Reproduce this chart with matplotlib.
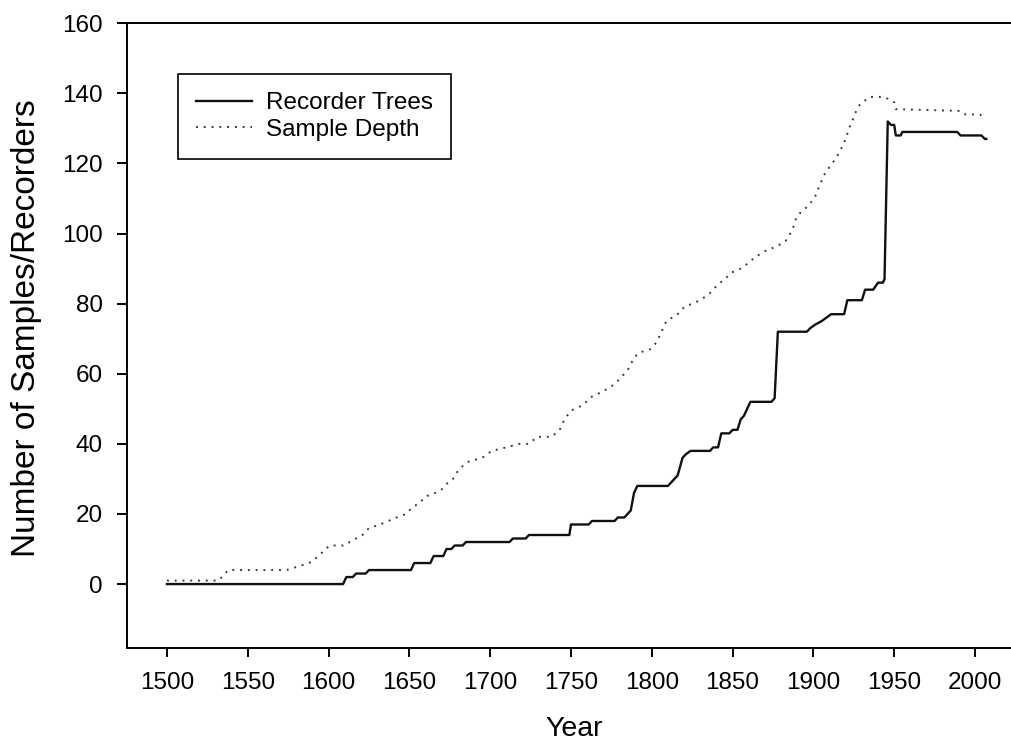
import numpy as np
import matplotlib
matplotlib.use("Agg")
from matplotlib import pyplot as plt

plt.rcParams["font.family"] = ["Liberation Sans", "DejaVu Sans"]

# Recorder trees (solid line), breakpoints
recorder_years = [1500, 1609, 1611, 1615, 1617, 1623, 1625, 1651, 1653, 1663, 1665, 1671,
                  1673, 1676, 1678, 1683, 1685, 1712, 1714, 1722, 1724, 1749, 1750, 1761,
                  1763, 1777, 1779, 1783, 1785, 1787, 1789, 1791, 1810, 1812, 1814, 1816,
                  1819, 1821, 1824, 1836, 1838, 1841, 1843, 1848, 1850, 1853, 1855, 1857,
                  1859, 1861, 1874, 1876, 1878, 1896, 1898, 1901, 1905, 1908, 1911, 1919,
                  1921, 1930, 1932, 1937, 1940, 1943, 1944, 1946, 1948, 1950, 1951, 1954,
                  1955, 1989, 1991, 2004, 2006, 2007]
recorder_values = [0, 0, 2, 2, 3, 3, 4, 4, 6, 6, 8, 8,
                   10, 10, 11, 11, 12, 12, 13, 13, 14, 14, 17, 17,
                   18, 18, 19, 19, 20, 21, 26, 28, 28, 29, 30, 31,
                   36, 37, 38, 38, 39, 39, 43, 43, 44, 44, 47, 48,
                   50, 52, 52, 53, 72, 72, 73, 74, 75, 76, 77, 77,
                   81, 81, 84, 84, 86, 86, 87, 132, 131, 131, 128, 128,
                   129, 129, 128, 128, 127, 127]

# Sample depth (dotted line)
depth_years = [1500, 1532, 1538, 1574, 1581, 1588, 1594, 1598, 1601, 1610, 1613, 1617,
               1621, 1625, 1632, 1637, 1642, 1648, 1652, 1656, 1660, 1666, 1670, 1674,
               1677, 1681, 1687, 1695, 1701, 1710, 1718, 1724, 1729, 1738, 1743, 1746,
               1750, 1757, 1763, 1770, 1777, 1785, 1789, 1792, 1799, 1803, 1806, 1809,
               1816, 1820, 1825, 1830, 1836, 1840, 1845, 1850, 1855, 1861, 1863, 1870,
               1878, 1883, 1887, 1889, 1892, 1897, 1901, 1904, 1907, 1910, 1914, 1917,
               1920, 1922, 1924, 1926, 1929, 1932, 1935, 1943, 1946, 1950, 1951, 1991,
               1994, 2003, 2006]
depth_values = [1, 1, 4, 4, 5, 6, 8, 10, 11, 11, 12, 13,
                14, 16, 17, 18, 19, 20, 22, 23, 25, 26, 27, 29,
                30, 33, 35, 36, 38, 39, 40, 40, 42, 42, 44, 47,
                49.5, 51, 53.5, 55, 57, 61, 64.5, 66, 67, 69, 72, 75,
                77, 79, 80, 81, 83, 85, 87, 89, 90, 92, 93, 95,
                96.5, 98, 101, 104, 106, 108, 110.5, 114, 117, 119, 121.5, 124,
                127, 130, 132, 134.5, 137, 138, 139, 139, 138.5, 137.5, 135.5, 135,
                134, 134, 133]

x_ticks = np.arange(1500, 2001, 50)
y_ticks = np.arange(0, 161, 20)

fig = plt.figure(figsize=(10.11, 7.49), dpi=100)
ax = fig.add_axes([0.1253, 0.1355, 0.885, 0.8334])

ax.plot(recorder_years, recorder_values, color="#111111", lw=1.7,
        label="Recorder Trees")
ax.plot(depth_years, depth_values, color="#3a3a3a", lw=1.4,
        linestyle=(0, (1, 3.0)), label="Sample Depth")

ax.set_xlim(1475.1, 2028.7)
ax.set_ylim(-18.1, 160)
ax.set_xticks(x_ticks)
ax.set_yticks(y_ticks)

for side in ["left", "bottom", "top"]:
    ax.spines[side].set_linewidth(1.4)
ax.spines["right"].set_visible(False)

ax.tick_params(axis="x", direction="out", length=6.5, width=1.4, pad=11,
               labelsize=17.5)
ax.tick_params(axis="y", direction="out", length=7, width=1.4, pad=10,
               labelsize=17.5)

ax.set_xlabel("Year", fontsize=20.5, labelpad=16)
ax.set_ylabel("Number of Samples/Recorders", fontsize=24)
ax.yaxis.set_label_coords(-0.0947, 0.512)

leg = ax.legend(loc="upper left", bbox_to_anchor=(0.0573, 0.9188),
                borderaxespad=0, fontsize=17.5, handlelength=2.3,
                handletextpad=0.58, borderpad=0.75, labelspacing=0.18,
                fancybox=False, framealpha=1, edgecolor="black")
leg.get_frame().set_linewidth(1.2)

fig.savefig("out.png", dpi=100)
